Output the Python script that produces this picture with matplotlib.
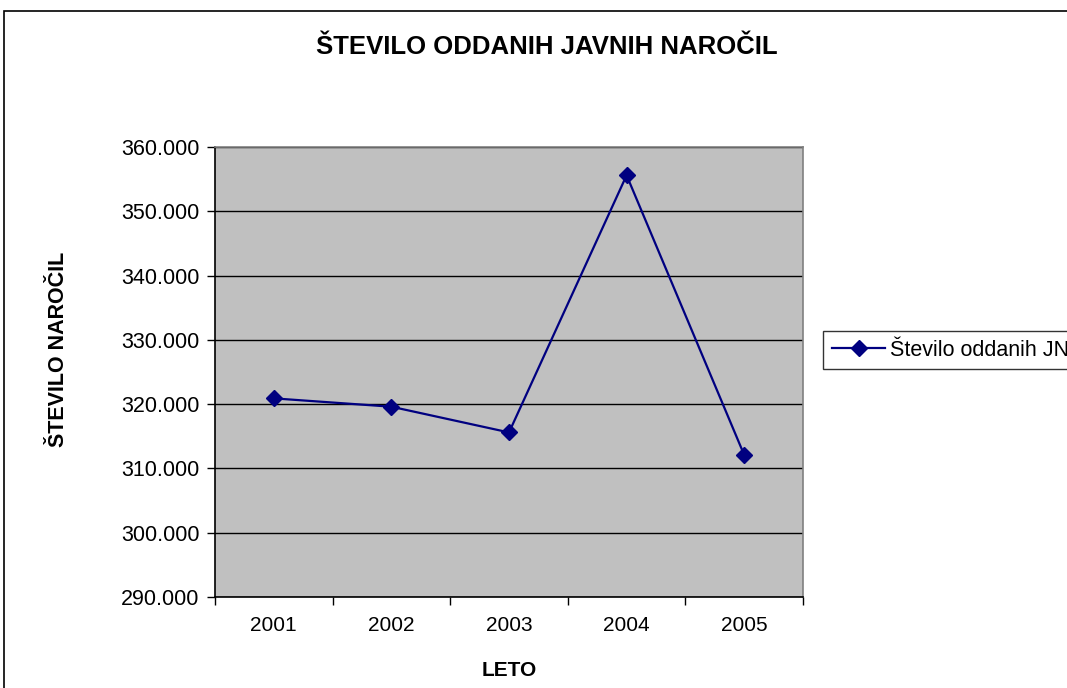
import matplotlib
matplotlib.use("Agg")
import matplotlib.pyplot as plt
from matplotlib.patches import Rectangle
from matplotlib.ticker import FuncFormatter, FixedLocator

plt.rcParams['font.family'] = ['Liberation Sans', 'DejaVu Sans']

years = ['2001', '2002', '2003', '2004', '2005']
values = [320900, 319600, 315600, 355600, 312100]
yticks = [290000, 300000, 310000, 320000, 330000, 340000, 350000, 360000]

title = 'ŠTEVILO ODDANIH JAVNIH NAROČIL'
xlabel = 'LETO'
ylabel = 'ŠTEVILO NAROČIL'
series_name = 'Število oddanih JN'

W, H = 1067, 688
fig = plt.figure(figsize=(W / 100, H / 100), dpi=100)
fig.patch.set_facecolor('white')

# outer chart border (cropped at right/bottom)
fig.add_artist(Rectangle((4 / W, -0.1), 1.2, 1 - 11 / H + 0.1, transform=fig.transFigure,
                         fill=False, edgecolor='black', linewidth=1.2))

ax = fig.add_axes([215 / W, 1 - 597 / H, 588 / W, 450 / H])
ax.set_facecolor('#C0C0C0')

x = list(range(len(years)))
ax.plot(x, values, color='#000080', linewidth=1.6, marker='D', markersize=8,
        markerfacecolor='#000080', markeredgecolor='#000080', label=series_name, zorder=3)

ax.set_xlim(-0.5, len(years) - 0.5)
ax.set_ylim(290000, 360000)
ax.yaxis.set_major_locator(FixedLocator(yticks))
ax.yaxis.set_major_formatter(FuncFormatter(lambda v, p: f'{int(v):,}'.replace(',', '.')))
ax.grid(axis='y', color='black', linewidth=1.0, zorder=1)
ax.set_axisbelow(True)

ax.set_xticks([i - 0.5 for i in range(len(years) + 1)])
ax.set_xticklabels([])
ax.set_xticks(x, minor=True)
ax.set_xticklabels(years, minor=True)
ax.tick_params(axis='x', which='major', direction='out', length=6, width=1, color='black')
ax.tick_params(axis='x', which='minor', length=0, labelsize=15, pad=14)
ax.tick_params(axis='y', direction='out', length=6, width=1, labelsize=15.5, pad=5)

for s in ['left', 'bottom']:
    ax.spines[s].set_color('black')
    ax.spines[s].set_linewidth(1.2)
for s in ['top', 'right']:
    ax.spines[s].set_color('#808080')
    ax.spines[s].set_linewidth(1.2)

fig.text(547 / W, 1 - 47 / H, title, ha='center', va='center', fontsize=18.5, fontweight='bold')
fig.text(509 / W, 1 - 671 / H, xlabel, ha='center', va='center', fontsize=15, fontweight='bold')
fig.text(59 / W, 1 - 349 / H, ylabel, ha='center', va='center', fontsize=15.5, fontweight='bold',
         rotation=90)

leg = fig.legend(loc='upper left', bbox_to_anchor=(823 / W, 1 - 331 / H), fontsize=15.5,
                 frameon=True, fancybox=False, edgecolor='black', borderpad=0.4,
                 handlelength=2.5, handletextpad=0.2, borderaxespad=0)
leg.get_frame().set_linewidth(1.0)

fig.savefig('out.png', dpi=100)
